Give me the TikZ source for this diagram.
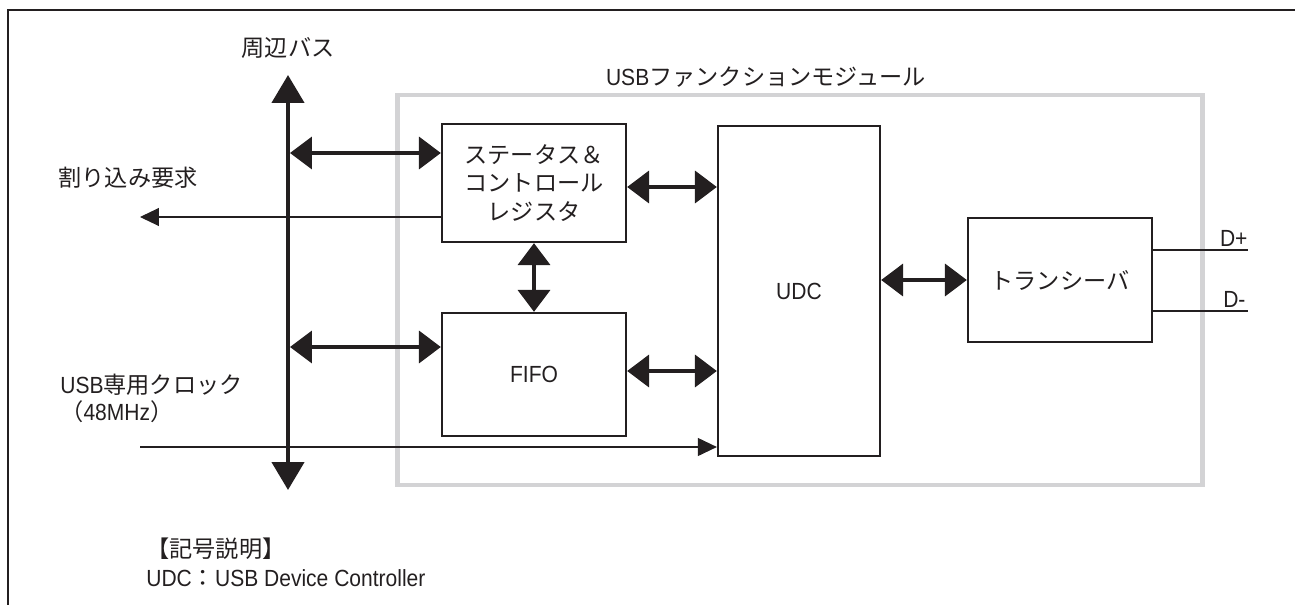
\documentclass[tikz,border=0pt]{standalone}
\usepackage{fontspec}
\setmainfont{Liberation Sans}[FakeStretch=0.9]
\newfontfamily\jp{Noto Sans CJK JP}
\usetikzlibrary{arrows.meta,positioning,calc}

\definecolor{ink}{RGB}{35,31,32}
\definecolor{modgray}{RGB}{211,211,213}

\tikzset{
  blk/.style={draw=ink, line width=1.3pt, align=center, text=ink,
    font=\jp\fontsize{13.2}{16.2}\selectfont},
  lbl/.style={text=ink, font=\fontsize{13.3}{15.5}\selectfont, inner sep=0pt},
  busarrow/.style={draw=ink, line width=2.6pt,
    {Triangle[length=0.56cm,width=0.64cm]}-{Triangle[length=0.56cm,width=0.64cm]}},
  bigarrow/.style={draw=ink, line width=2.2pt,
    {Triangle[length=0.44cm,width=0.64cm]}-{Triangle[length=0.44cm,width=0.64cm]}},
  thinarrow/.style={draw=ink, line width=0.6pt, -{Triangle[length=0.38cm,width=0.36cm]}},
  wire/.style={draw=ink, line width=0.6pt}
}

\begin{document}
\begin{tikzpicture}[x=0.02cm,y=-0.02cm]

\useasboundingbox (0,0) rectangle (1295,605);

% outer frame (top and left only)
\draw[ink, line width=1.7pt] (8,605) -- (8,10) -- (1295,10);

% module outline
\node[draw=modgray, line width=2.8pt, minimum width=16.12cm, minimum height=7.8cm] (mod) at (800,290) {};
\node[lbl] (modname) at (766,77) {USB{\jp\fontsize{13.2}{15}\selectfont ファンクションモジュール}};

% blocks
\node[blk, minimum width=3.68cm, minimum height=2.36cm] (reg) at (534,183) {ステータス＆\\コントロール\\レジスタ};
\node[blk, minimum width=3.68cm, minimum height=2.46cm, font=\fontsize{13.3}{15}\selectfont] (fifo) at (534,374.5) {FIFO};
\node[blk, minimum width=3.24cm, minimum height=6.6cm, font=\fontsize{13.3}{15}\selectfont] (udc) at (799,291) {UDC};
\node[blk, minimum width=3.68cm, minimum height=2.48cm] (trx) at (1060,280) {トランシーバ};

% peripheral bus
\coordinate (bustop) at (288,75);
\coordinate (busbot) at (288,490);
\draw[busarrow] (busbot) -- (bustop);
\node[lbl, font=\jp\fontsize{13.2}{15}\selectfont] (busname) at (288,48) {周辺バス};

\coordinate (tap1) at (290,153);
\coordinate (tap2) at (290,347);
\draw[bigarrow] (tap1) -- (tap1 -| reg.west);
\draw[bigarrow] (tap2) -- (tap2 -| fifo.west);

% internal paths
\draw[bigarrow] ([yshift=-0.08cm]reg.east) -- ([yshift=-0.08cm]reg.east -| udc.west);
\draw[bigarrow] ([yshift=0.07cm]fifo.east) -- ([yshift=0.07cm]fifo.east -| udc.west);
\draw[bigarrow] (reg.south) -- (fifo.north);
\draw[bigarrow] (trx.west -| udc.east) -- (trx.west);

% interrupt request
\coordinate (irq) at (140,217);
\draw[thinarrow] (irq -| reg.west) -- (irq);
\node[lbl, font=\jp\fontsize{13.2}{15}\selectfont] (irqname) at (128,178) {割り込み要求};

% USB clock
\coordinate (clk) at (140,447);
\draw[thinarrow] (clk) -- (clk -| udc.west);
\node[lbl, align=left, anchor=west] (clkname) at (60,398) {USB{\jp\fontsize{13.2}{15}\selectfont 専用クロック}\\{\jp\fontsize{13.2}{15}\selectfont （}48MHz{\jp\fontsize{13.2}{15}\selectfont ）}};

% D+ / D-
\coordinate (dp) at (1248,250);
\coordinate (dm) at (1248,311);
\draw[wire] (trx.east |- dp) -- (dp) node[lbl, anchor=south east, yshift=0.06cm] (dplbl) {D+};
\draw[wire] (trx.east |- dm) -- (dm) node[lbl, anchor=south east, yshift=0.06cm, xshift=-0.04cm] (dmlbl) {D-};

% legend
\node[lbl, align=left, anchor=north west] (legend) at (146,538) {{\jp\fontsize{13.2}{15}\selectfont 【記号説明】}\\[1pt]UDC{\jp\fontsize{13.2}{15}\selectfont ：}USB Device Controller};

\end{tikzpicture}
\end{document}
